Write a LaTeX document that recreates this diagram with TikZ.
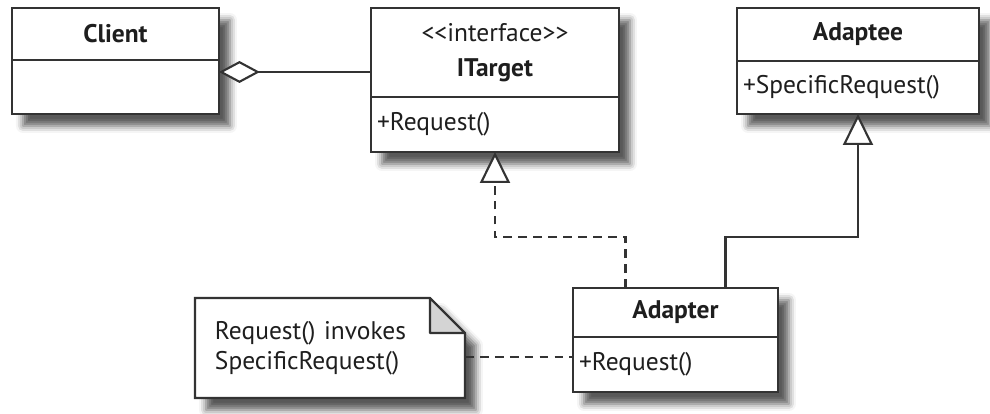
\documentclass[tikz,border=0pt]{standalone}
\usepackage{fontspec}
\setmainfont{PT Sans}
\usepackage{xcolor}
\usepackage{tikz}
\usetikzlibrary{positioning,arrows.meta,shapes,fit,calc,shadows.blur,backgrounds}
\definecolor{umlLine}{HTML}{333333}
\definecolor{umlText}{HTML}{1E1E1E}
\definecolor{noteFold}{HTML}{D4D4D4}

\tikzset{
  classhead/.style={draw=umlLine, line width=1.2pt, fill=white, inner sep=0pt, outer sep=0pt, align=center},
  classops/.style={draw=umlLine, line width=1.2pt, fill=white, inner xsep=0.12cm, inner ysep=0pt, outer sep=0pt, align=left},
  classshadow/.style={fill=white, inner sep=0pt, outer sep=0pt,
    blur shadow={shadow xshift=0.22cm, shadow yshift=-0.24cm, shadow blur radius=0.14cm, shadow opacity=65}},
  notebox/.style={inner xsep=0.4cm, inner ysep=0pt, outer sep=0pt, align=left, text width=4.6cm, minimum height=2cm},
  aggr/.style={draw=umlLine, line width=1.2pt, {Diamond[fill=white,length=0.82cm,width=0.44cm]}-},
  realize/.style={draw=umlLine, line width=1.2pt, dash pattern=on 5pt off 3.5pt, -{Triangle[fill=white,length=0.62cm,width=0.6cm]}},
  inherit/.style={draw=umlLine, line width=1.2pt, -{Triangle[fill=white,length=0.62cm,width=0.6cm]}}
}

\begin{document}
\begin{tikzpicture}[x=0.02cm, y=-0.02cm, text=umlText, font=\fontsize{14.5}{20}\selectfont]
    \useasboundingbox (0,0) rectangle (990,413);

    % classes
    \node[classhead, minimum width=4.14cm, minimum height=1.04cm, anchor=north west] (client) at (12,8) {\bfseries Client};
    \node[classops, text width=3.9cm, minimum height=1.08cm, below=0pt of client] (client-ops) {};

    \node[classhead, minimum width=4.96cm, minimum height=1.78cm, anchor=north west] (itarget) at (371,8) {<{}<interface>{}>\\ \bfseries ITarget};
    \node[classops, text width=4.72cm, minimum height=1.1cm, below=0pt of itarget] (itarget-ops) {+Request()};

    \node[classhead, minimum width=4.84cm, minimum height=1.06cm, anchor=north west] (adaptee) at (737,8) {\bfseries Adaptee};
    \node[classops, text width=4.6cm, minimum height=1.06cm, below=0pt of adaptee] (adaptee-ops) {+SpecificRequest()};

    \node[classhead, minimum width=4.1cm, minimum height=0.98cm, anchor=north west] (adapter) at (573,288) {\bfseries Adapter};
    \node[classops, text width=3.86cm, minimum height=1.1cm, below=0pt of adapter] (adapter-ops) {+Request()};

    % note
    \node[notebox, anchor=north west, font=\fontsize{14.5}{17}\selectfont] (note) at (195,298) {Request() invokes\\ SpecificRequest()};

    % shadows and note paper
    \begin{scope}[on background layer]
      \node[classshadow, fit=(client)(client-ops)] (client-frame) {};
      \node[classshadow, fit=(itarget)(itarget-ops)] (itarget-frame) {};
      \node[classshadow, fit=(adaptee)(adaptee-ops)] (adaptee-frame) {};
      \node[classshadow, fit=(adapter)(adapter-ops)] (adapter-frame) {};
      \path[classshadow, draw=umlLine, line width=1.2pt] (note.south west) -- (note.north west) -- ([xshift=-0.7cm]note.north east)
        -- ([yshift=-0.7cm]note.north east) -- (note.south east) -- cycle;
    \end{scope}
    \filldraw[fill=noteFold, draw=umlLine, line width=1.2pt, line join=round] ([xshift=-0.7cm]note.north east)
      -- ([xshift=-0.7cm,yshift=-0.7cm]note.north east) -- ([yshift=-0.7cm]note.north east) -- cycle;

    % connectors
    \draw[aggr] ([yshift=0.3cm]client-ops.east) -- ([yshift=0.3cm]client-ops.east -| itarget.west);
    \draw[realize] ([xshift=-1cm]adapter.north) -- ++(0,-51) -| (itarget-ops.south);
    \draw[inherit] ([xshift=1cm]adapter.north) -- ++(0,-51) -| (adaptee-ops.south);
    \draw[umlLine, line width=1.2pt, dash pattern=on 5pt off 3.5pt] ([yshift=-0.18cm]note.east) -- ([yshift=-0.18cm]note.east -| adapter-ops.west);
\end{tikzpicture}
\end{document}
